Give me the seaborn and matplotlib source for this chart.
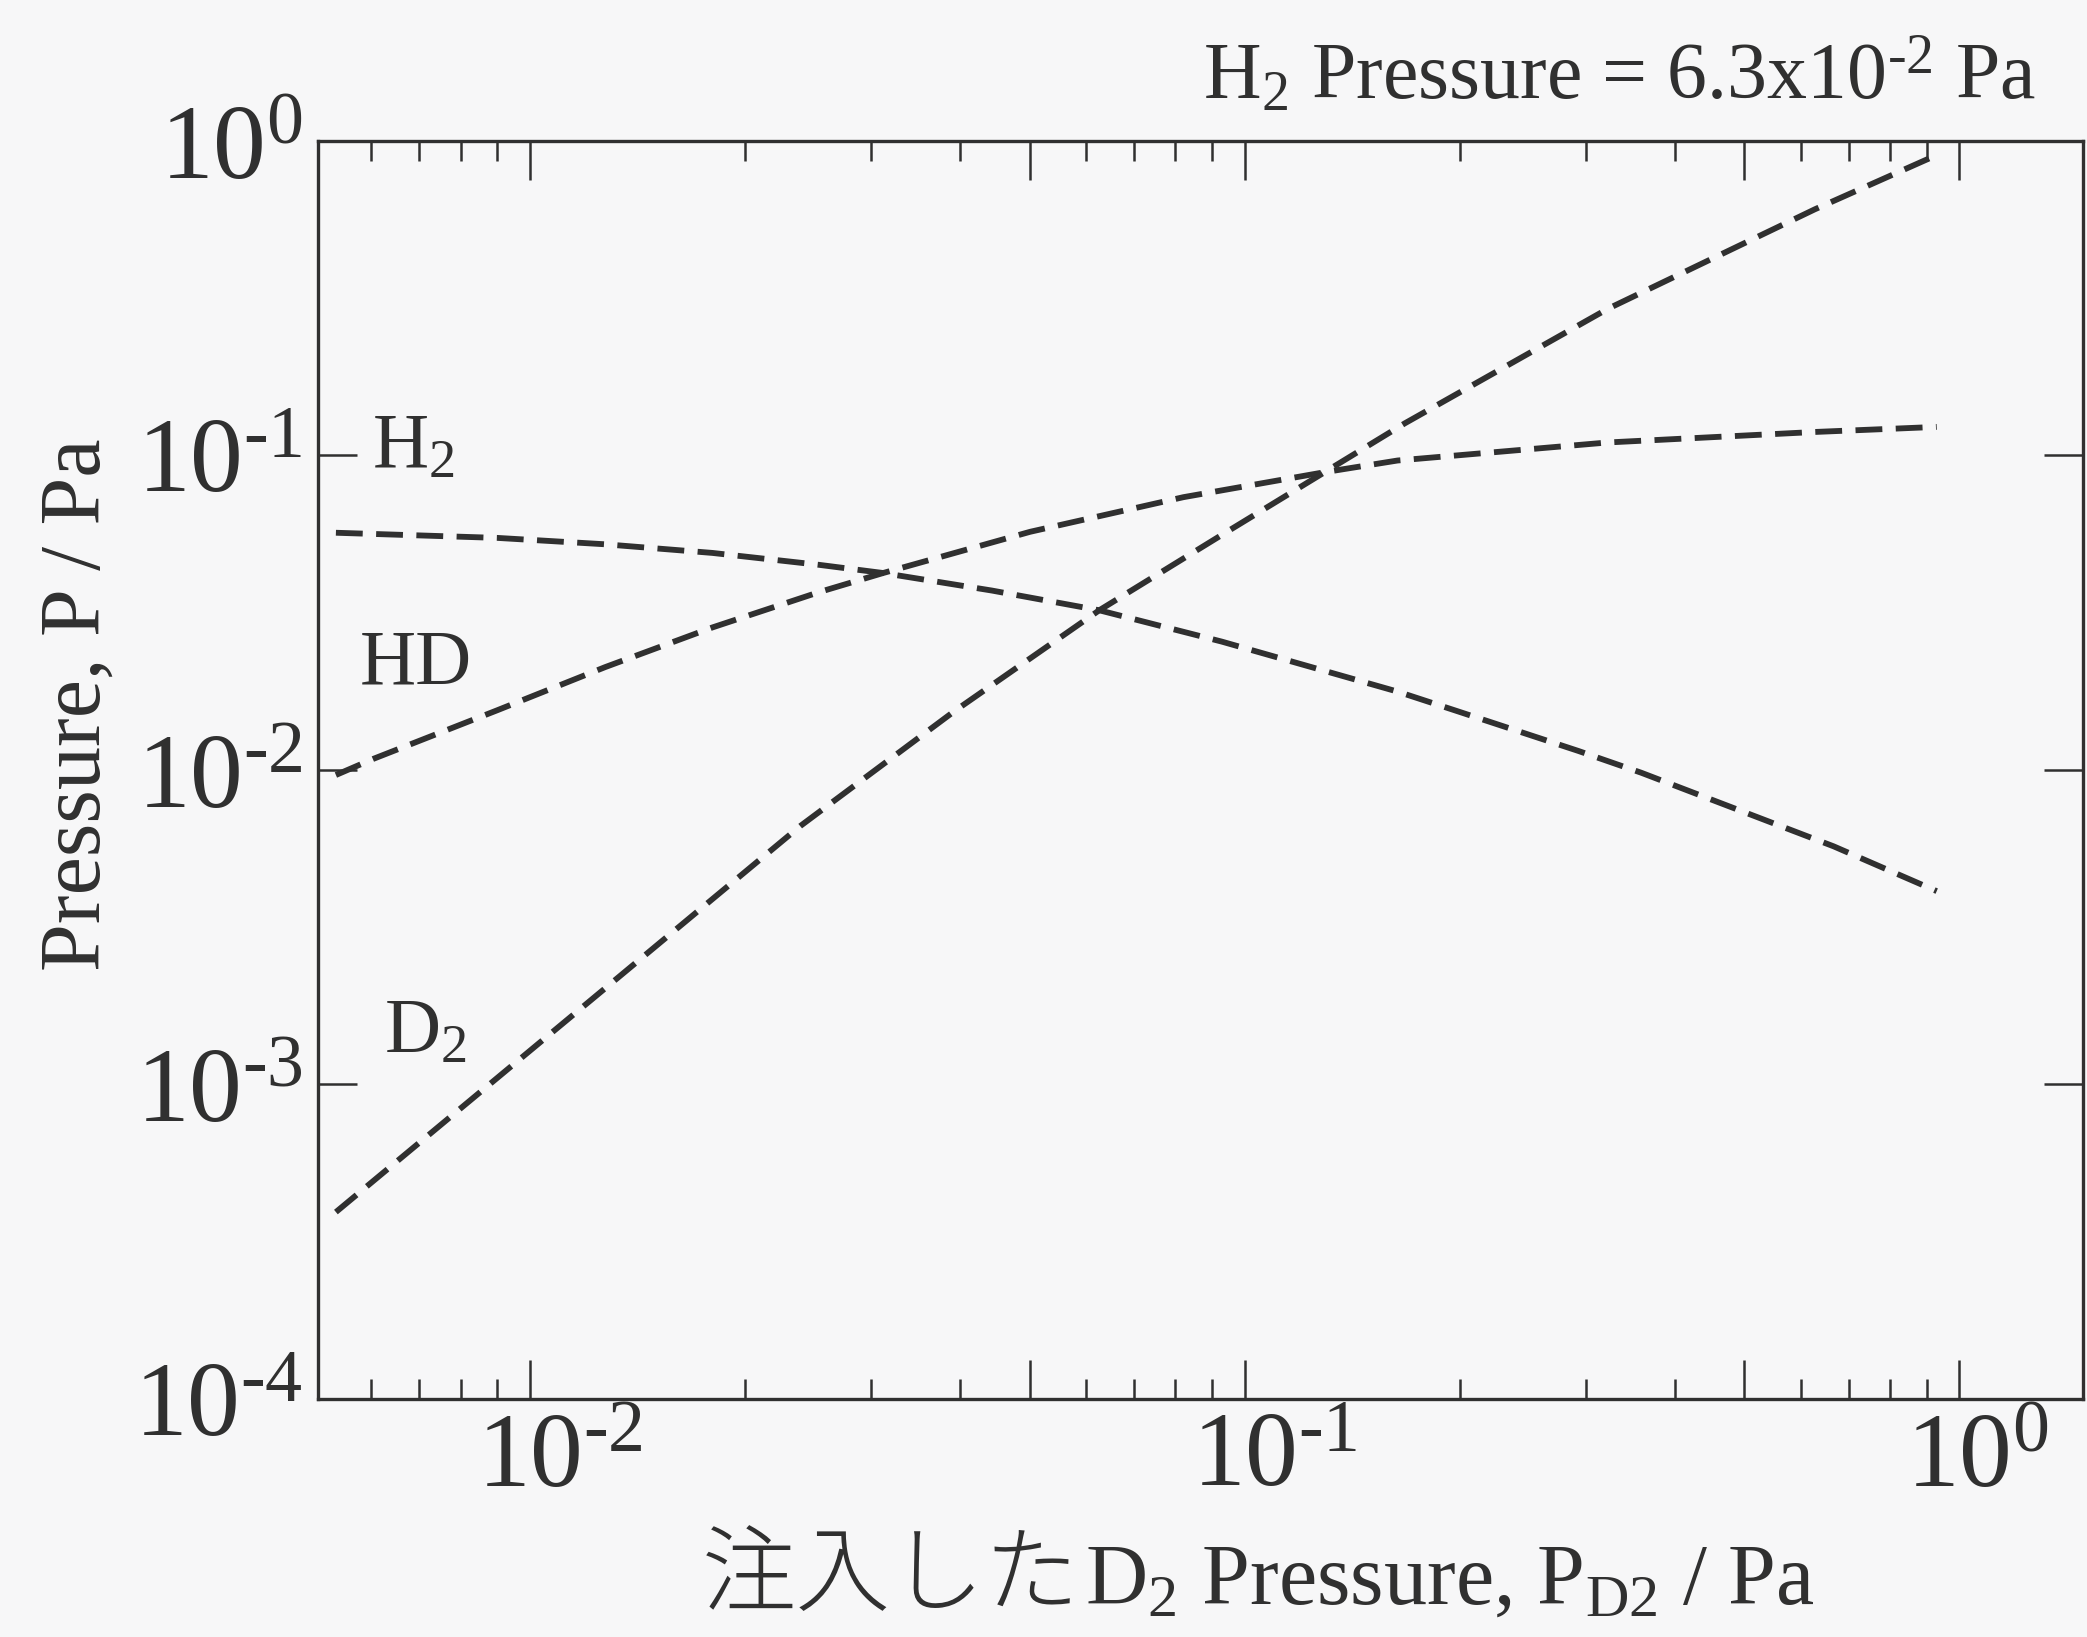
import numpy as np
import pandas as pd
import matplotlib
matplotlib.use("Agg")
import matplotlib.pyplot as plt
import matplotlib.ticker as mticker
import matplotlib.transforms as mtransforms
import seaborn as sns

# Partial pressures (Pa) versus injected D2 pressure (Pa), H2 fixed at 6.3e-2 Pa
h2_x = [0.00535, 0.0090, 0.01274, 0.0180, 0.0254, 0.0312, 0.0443, 0.0626,
        0.0929, 0.1637, 0.1968, 0.293, 0.359, 0.667, 0.93]
h2_y = [0.0568, 0.0547, 0.0522, 0.0490, 0.0449, 0.0423, 0.0372, 0.0322,
        0.0256, 0.01775, 0.01548, 0.01150, 0.0098, 0.00572, 0.00412]

hd_x = [0.00535, 0.00603, 0.0090, 0.01274, 0.0180, 0.0254, 0.0312, 0.0501,
        0.0821, 0.1294, 0.1637, 0.322, 0.628, 0.93]
hd_y = [0.00964, 0.01084, 0.01549, 0.02124, 0.0284, 0.0368, 0.0423, 0.0572,
        0.0737, 0.0885, 0.0964, 0.110, 0.1188, 0.1233]

d2_x = [0.00535, 0.0070, 0.00966, 0.01332, 0.01741, 0.0239, 0.0392, 0.0626,
        0.0929, 0.1294, 0.1675, 0.322, 0.628, 0.93]
d2_y = [0.000393, 0.000653, 0.00120, 0.00220, 0.00365, 0.00664, 0.01535, 0.0322,
        0.0559, 0.0885, 0.1265, 0.2924, 0.6065, 0.902]

gases = ["H2", "HD", "D2"]
gas_labels = ["H$_2$", "HD", "D$_2$"]
# label anchor points (data coordinates, left/baseline)
label_x = [0.00601, 0.00578, 0.00625]
label_y = [0.0916, 0.0188, 0.00127]

y_decades = [1e-4, 1e-3, 1e-2, 1e-1, 1.0]
x_major = [0.01, 0.05, 0.1, 0.5, 1.0]

df = pd.concat([
    pd.DataFrame({"P_D2": h2_x, "P": h2_y, "gas": "H2"}),
    pd.DataFrame({"P_D2": hd_x, "P": hd_y, "gas": "HD"}),
    pd.DataFrame({"P_D2": d2_x, "P": d2_y, "gas": "D2"}),
], ignore_index=True)

sns.set_theme(style="ticks")
plt.rcParams["font.family"] = ["Liberation Serif", "Noto Sans CJK JP"]
plt.rcParams["mathtext.default"] = "regular"
plt.rcParams["mathtext.fontset"] = "custom"
plt.rcParams["mathtext.rm"] = "Liberation Serif"

INK = "#303030"
BG = "#f7f7f8"
TICK_FS = 76

fig = plt.figure(figsize=(20.87, 16.37), dpi=100, facecolor=BG)
ax = fig.add_axes([0.15237, 0.14539, 0.84571, 0.76848], facecolor=BG)
ax.set_xscale("log")
ax.set_yscale("log")

for gas in gases:
    sub = df[df["gas"] == gas]
    sns.lineplot(data=sub, x="P_D2", y="P", ax=ax, color=INK, linewidth=4.2,
                 linestyle=(0, (4.6, 2.3)), estimator=None, legend=False)

ax.set_xlim(0.00505, 1.49)
ax.set_ylim(1e-4, 1.0)


def decade_label(v, pos=None):
    e = np.log10(v)
    if abs(e - round(e)) > 1e-6:
        return ""
    exp = str(int(round(e))).replace("-", "\u2010")
    return "$10^{" + exp + "}$"


ax.xaxis.set_major_locator(mticker.FixedLocator(x_major))
ax.xaxis.set_major_formatter(mticker.FuncFormatter(decade_label))
ax.xaxis.set_minor_locator(mticker.LogLocator(base=10, subs=(2, 3, 4, 6, 7, 8, 9), numticks=50))
ax.xaxis.set_minor_formatter(mticker.NullFormatter())
ax.yaxis.set_major_locator(mticker.FixedLocator(y_decades))
ax.yaxis.set_major_formatter(mticker.FuncFormatter(decade_label))
ax.yaxis.set_minor_locator(mticker.NullLocator())

ax.tick_params(axis="both", which="both", direction="in", top=True, right=True,
               bottom=True, left=True, color=INK, width=1.8, labelcolor=INK)
ax.tick_params(which="major", length=28)
ax.tick_params(which="minor", length=14.4)
ax.tick_params(axis="x", which="major", labelsize=TICK_FS, pad=10)
ax.tick_params(axis="y", which="major", labelsize=TICK_FS, pad=11)

for s in ax.spines.values():
    s.set_linewidth(2.4)
    s.set_color(INK)

ax.set_ylabel("Pressure, P / Pa", fontsize=62, color=INK)
ax.yaxis.label.set_va("baseline")
ax.yaxis.set_label_coords(-0.1235, 0.552)

ax.set_xlabel("D$_2$ Pressure, P$_{D2}$ / Pa", fontsize=62, color=INK,
              ha="left", va="baseline")
ax.xaxis.set_label_coords(0.4346, -0.163)
ax.text(0.4315, -0.163, "注入した", transform=ax.transAxes, ha="right",
        va="baseline", fontsize=68, color=INK, family=["Noto Sans CJK JP"],
        fontweight="light")

for lab, lx, ly in zip(gas_labels, label_x, label_y):
    ax.text(lx, ly, lab, fontsize=56, color=INK, ha="left", va="baseline")

fig.text(0.9756, 0.9389, "H$_2$ Pressure = 6.3x10$^{\u20102}$ Pa",
         ha="right", va="baseline", fontsize=57.5, color=INK)

# centre the "10" of each x tick label on its tick
fig.canvas.draw()
half_ten = 0.5 * TICK_FS / 72.0  # half the width of "10" in inches
shift = mtransforms.ScaledTranslation(-half_ten, 0, fig.dpi_scale_trans)
for lbl in ax.get_xticklabels():
    lbl.set_ha("left")
    lbl.set_transform(lbl.get_transform() + shift)

fig.savefig("out.png", dpi=100, facecolor=BG)
